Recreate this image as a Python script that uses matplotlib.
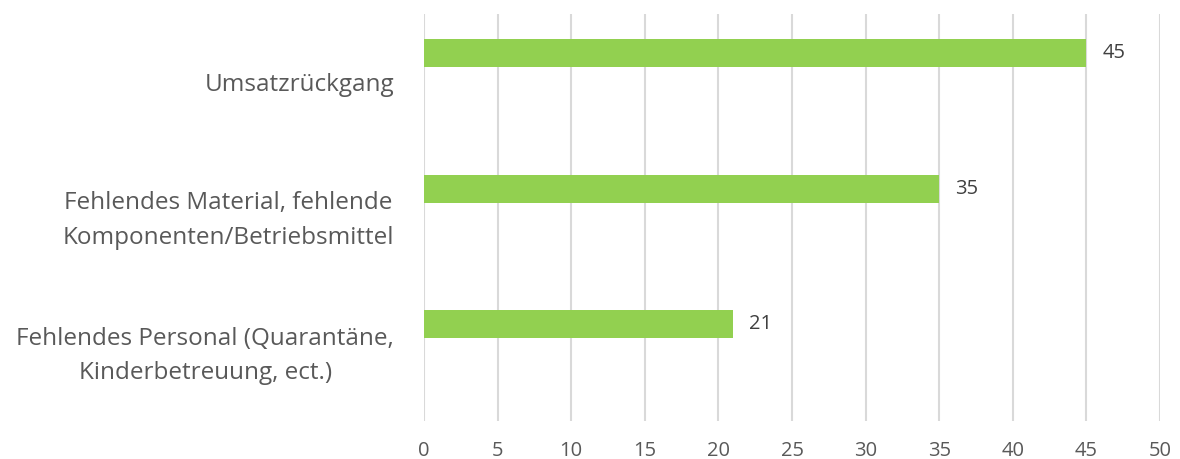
import matplotlib
matplotlib.use("Agg")
import matplotlib.pyplot as plt
import matplotlib.transforms as mtransforms
import numpy as np

categories = ["Umsatzrückgang",
              "Fehlendes Material, fehlende\nKomponenten/Betriebsmittel",
              "Fehlendes Personal (Quarantäne,\nKinderbetreuung, ect.)"]
values = [45, 35, 21]
xticks = [0, 5, 10, 15, 20, 25, 30, 35, 40, 45, 50]

plt.rcParams['font.family'] = ['Open Sans', 'DejaVu Sans']

fig = plt.figure(figsize=(11.8, 4.59), dpi=100)
ax = fig.add_axes([424/1180, 1 - 421/459, (1160-424)/1180, (421-14)/459])

pos = np.arange(len(categories))
bar_h = 0.206
offset = -0.213
ax.barh(pos + offset, values, height=bar_h, color="#92d050", zorder=3)

for p, v in zip(pos, values):
    ax.text(v + 1.1, p + offset, str(v), va="center", ha="left",
            fontsize=14.5, color="#404040")

ax.set_xlim(0, 50)
ax.set_ylim(2.5, -0.5)
ax.set_xticks(xticks)
ax.set_xticklabels([str(t) for t in xticks], fontsize=14.5, color="#595959")
ax.set_yticks(pos)
ax.set_yticklabels(categories, fontsize=17.5, color="#595959", linespacing=1.6,
                   multialignment="center")
ax.tick_params(axis="both", length=0)
ax.tick_params(axis="y", pad=21.5)
ax.tick_params(axis="x", pad=14.5)
ax.grid(axis="x", color="#d9d9d9", linewidth=1.5, zorder=0)
for s in ax.spines.values():
    s.set_visible(False)

shift = mtransforms.ScaledTranslation(0, 4/72, fig.dpi_scale_trans)
for lab in ax.get_yticklabels():
    if "\n" in lab.get_text():
        lab.set_transform(lab.get_transform() + shift)

fig.savefig("out.png", dpi=100)
